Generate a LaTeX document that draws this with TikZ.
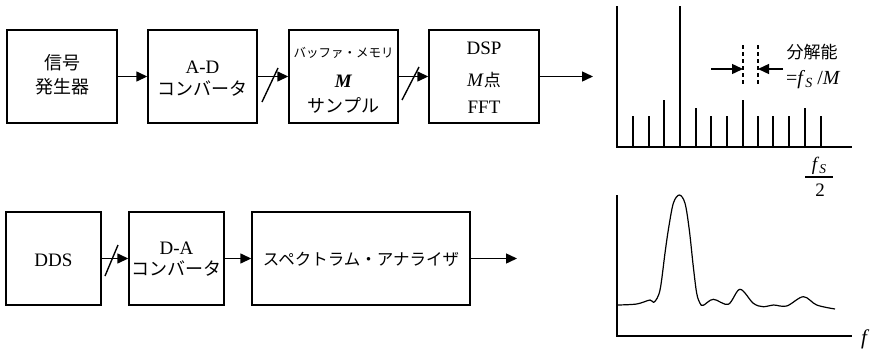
\documentclass[tikz,border=0pt]{standalone}
\usepackage{fontspec}
\setmainfont{Liberation Serif}
\newfontfamily\jp{Noto Sans CJK JP}
\usetikzlibrary{arrows.meta}
\newcommand{\jpfont}[1]{\jp\fontsize{#1}{#1}\selectfont}
\begin{document}
\begin{tikzpicture}[x=1pt,y=-1pt,
  blk/.style={draw,line width=1.4pt,minimum height=93pt,inner sep=0pt},
  conn/.style={line width=1.4pt,-{Triangle[length=11pt,width=10pt]}},
  bar/.style={line width=1.4pt},
  lat/.style={inner sep=0pt,font=\fontsize{19}{21}\selectfont},
  jpt/.style={inner sep=0pt,font=\jpfont{18}}]
\useasboundingbox (0,0) rectangle (877,351);

% ---- upper chain: FFT analysis ----
\node[blk,minimum width=110pt] (gen) at (62,76.5) {};
\node[blk,minimum width=109pt] (adc) at (202.5,76.5) {};
\node[blk,minimum width=109pt] (buf) at (343.5,76.5) {};
\node[blk,minimum width=110pt] (dsp) at (484,76.5) {};
\coordinate (topout) at (593,76.5);

\node[jpt] (gen1) at (62,63) {信号};
\node[jpt] (gen2) at (62,87) {発生器};
\node[lat] (adc1) at (202.5,67) {A-D};
\node[jpt] (adc2) at (202.5,89) {コンバータ};
\node[jpt,font=\jpfont{12.5}] (buf1) at (343.5,53) {バッファ・メモリ};
\node[lat] (buf2) at (343.5,81) {\textbf{\textit{M}}};
\node[jpt] (buf3) at (343.5,105) {サンプル};
\node[lat] (dsp1) at (484,48) {DSP};
\node[lat] (dsp2) at (484,80) {\textit{M}{\jpfont{17}点}};
\node[lat] (dsp3) at (484,107) {FFT};

\draw[conn] (gen) -- (adc);
\draw[conn] (adc) -- (buf);
\draw[conn] (buf) -- (dsp);
\draw[conn] (dsp) -- (topout);
% bus slashes
\draw[bar] (262,102) -- (278,68);
\draw[bar] (402,100) -- (419,67);

% ---- lower chain: swept analysis ----
\node[blk,minimum width=95pt] (dds) at (53.5,258.5) {};
\node[blk,minimum width=95pt] (dac) at (176.5,258.5) {};
\node[blk,minimum width=218pt] (sa) at (361,258.5) {};
\coordinate (botout) at (517,258.5);

\node[lat] (dds1) at (53.5,260) {DDS};
\node[lat] (dac1) at (176.5,248) {D-A};
\node[jpt] (dac2) at (176.5,269) {コンバータ};
\node[jpt,font=\jpfont{16.5}] (sa1) at (361,259) {スペクトラム・アナライザ};

\draw[conn] (dds) -- (dac);
\draw[conn] (dac) -- (sa);
\draw[conn] (sa) -- (botout);
\draw[bar] (105,276) -- (118,245);

% ---- line spectrum ----
\draw[bar] (617,6) -- (617,147) -- (852,147);
\foreach \x/\t in {633/116,649/116,664/100,680/6,696/108,711/116,727/116,743/100,
                   758/116,773/116,789/116,805/108,821/116}
  \draw[bar] (\x,147) -- (\x,\t);
\draw[line width=1.1pt,dash pattern=on 4pt off 3pt] (743,45) -- (743,84);
\draw[line width=1.1pt,dash pattern=on 4pt off 3pt] (758,45) -- (758,84);
\coordinate (la) at (711,69);
\coordinate (lb) at (743,69);
\coordinate (ra) at (783,69);
\coordinate (rb) at (758,69);
\draw[conn] (la) -- (lb);
\draw[conn] (ra) -- (rb);
\node[jpt,font=\jpfont{17}] (res) at (812,52) {分解能};
\node[lat,anchor=west,font=\fontsize{20}{22}\selectfont] (resv) at (786,80)
  {=\textit{f}\raisebox{-2.5pt}{\fontsize{14}{15}\selectfont\textit{S}} /\textit{M}};
\node[lat,font=\fontsize{19}{21}\selectfont] (fsn) at (819,166)
  {\textit{f}\raisebox{-2.5pt}{\fontsize{13.5}{15}\selectfont\textit{S}}};
\draw[line width=1.1pt] (805,177) -- (833,177);
\node[lat] (fsd) at (820,190) {2};

% ---- swept spectrum ----
\draw[bar] (617,195) -- (617,336) -- (852,336);
\node[lat,font=\fontsize{21}{22}\selectfont\itshape] (fl) at (864,339) {f};
\draw[line width=1.2pt] plot[smooth,tension=0.55] coordinates {
  (617.3,305) (636.7,304) (650,300) (654.3,302) (660,290) (665,253) (668.3,230)
  (673.3,203.3) (679.3,195) (685,203.3) (689.3,230) (693.3,266.7) (696.7,293.3)
  (700,303.3) (703.3,305.3) (713.3,299.3) (728.3,304.3) (740,289.3) (753.3,303.3)
  (763.3,306.7) (773.3,305) (786.7,306) (803.3,296.7) (816.7,305) (835,309)};
\end{tikzpicture}
\end{document}
